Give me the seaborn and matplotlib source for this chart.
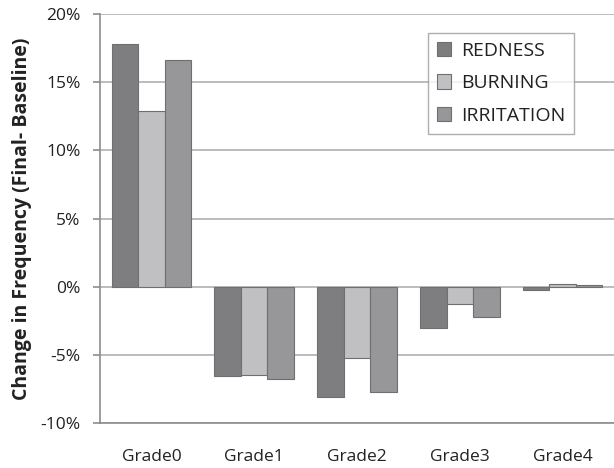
import matplotlib
matplotlib.use("Agg")
import matplotlib.pyplot as plt
import seaborn as sns
import pandas as pd
from matplotlib.ticker import FuncFormatter

grades = ["Grade0", "Grade1", "Grade2", "Grade3", "Grade4"]
series = ["REDNESS", "BURNING", "IRRITATION"]
redness = [17.8, -6.55, -8.1, -3.0, -0.22]
burning = [12.9, -6.45, -5.2, -1.3, 0.2]
irritation = [16.6, -6.75, -7.7, -2.2, 0.12]
colors = ["#7d7e82", "#bfc0c3", "#96979a"]

rows = []
for name, vals in zip(series, [redness, burning, irritation]):
    for g, v in zip(grades, vals):
        rows.append({"grade": g, "series": name, "value": v})
df = pd.DataFrame(rows)

sns.set_style("white")
plt.rcParams["font.family"] = ["Open Sans", "DejaVu Sans"]

fig = plt.figure(figsize=(6.14, 4.68), dpi=100)
ax = fig.add_axes([100/614, 45/468, 514/614, 409/468])

sns.barplot(data=df, x="grade", y="value", hue="series", order=grades,
            hue_order=series, palette=colors, width=0.775, edgecolor="#6e6f72",
            linewidth=0.8, ax=ax, zorder=3)

ax.set_ylim(-10, 20)
ax.set_xlim(-0.5, 4.5)
ax.set_yticks([-10, -5, 0, 5, 10, 15, 20])
ax.yaxis.set_major_formatter(FuncFormatter(lambda v, p: f"{int(v)}%"))
ax.yaxis.grid(True, color="#b0b0b0", linewidth=1.2, zorder=0)
ax.set_axisbelow(True)
for s in ["top", "right"]:
    ax.spines[s].set_visible(False)
ax.spines["left"].set_color("#8c8c8c")
ax.spines["bottom"].set_color("#8c8c8c")
ax.spines["left"].set_linewidth(1.2)
ax.spines["bottom"].set_linewidth(1.2)
ax.tick_params(axis="y", left=True, length=5, width=1.2, color="#8c8c8c",
               labelsize=12.5, labelcolor="#222222", pad=9)
ax.tick_params(axis="x", bottom=False, labelsize=12.5, labelcolor="#222222", pad=15)
ax.set_xlabel("")
ax.set_ylabel("Change in Frequency (Final- Baseline)", fontsize=14,
              fontweight="bold", color="#222222", labelpad=6)

leg = ax.legend(loc="upper right", bbox_to_anchor=(0.922, 0.9535), fontsize=14,
                frameon=True, fancybox=False, edgecolor="#9a9a9a",
                handlelength=0.75, handleheight=0.75, handletextpad=0.5,
                labelspacing=0.75, borderpad=0.45, borderaxespad=0, title=None)
leg.get_frame().set_linewidth(1.0)
for t in leg.get_texts():
    t.set_color("#222222")

fig.savefig("out.png", dpi=100)
